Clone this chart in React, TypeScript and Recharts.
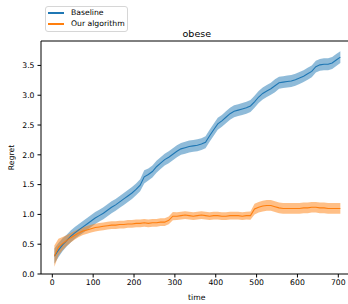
import React from 'react';
import { ComposedChart, Area, Line, XAxis, YAxis, ReferenceLine } from 'recharts';

const times = [5,15,25,35,45,55,65,75,85,95,105,115,125,135,145,155,165,175,185,195,205,215,225,235,245,255,265,275,285,295,305,315,325,335,345,355,365,375,385,395,405,415,425,435,445,455,465,475,485,495,505,515,525,535,545,555,565,575,585,595,605,615,625,635,645,655,665,675,685,695,705];

const baselineMean = [0.30,0.40,0.49,0.56,0.63,0.69,0.74,0.79,0.84,0.89,0.94,0.98,1.02,1.07,1.12,1.16,1.21,1.26,1.31,1.36,1.42,1.49,1.63,1.67,1.72,1.80,1.86,1.92,1.96,2.01,2.06,2.10,2.12,2.14,2.15,2.16,2.18,2.21,2.32,2.42,2.52,2.57,2.63,2.69,2.73,2.75,2.77,2.79,2.82,2.89,2.97,3.03,3.07,3.11,3.16,3.21,3.22,3.23,3.24,3.26,3.29,3.32,3.36,3.40,3.48,3.51,3.52,3.52,3.54,3.59,3.64];
const baselineSpread = [0.13,0.12,0.11,0.10,0.10,0.10,0.10,0.10,0.10,0.10,0.10,0.10,0.10,0.10,0.10,0.10,0.10,0.10,0.10,0.10,0.10,0.10,0.11,0.10,0.10,0.10,0.10,0.10,0.10,0.10,0.10,0.10,0.10,0.10,0.10,0.10,0.10,0.10,0.10,0.10,0.10,0.10,0.10,0.10,0.10,0.10,0.10,0.10,0.10,0.10,0.10,0.10,0.10,0.10,0.11,0.10,0.10,0.10,0.10,0.10,0.10,0.10,0.10,0.10,0.10,0.10,0.10,0.10,0.10,0.10,0.10];

const algoMean = [0.30,0.45,0.51,0.56,0.61,0.65,0.69,0.72,0.74,0.76,0.78,0.79,0.80,0.81,0.82,0.82,0.83,0.83,0.84,0.84,0.85,0.85,0.86,0.85,0.86,0.86,0.87,0.87,0.90,0.97,0.97,0.98,0.99,0.98,0.97,0.98,0.99,0.98,0.97,0.98,0.98,0.97,0.97,0.98,0.98,0.98,0.97,0.98,0.98,1.09,1.12,1.14,1.15,1.15,1.13,1.11,1.10,1.10,1.10,1.10,1.10,1.11,1.11,1.12,1.12,1.11,1.11,1.10,1.10,1.10,1.10];
const algoSpread = [0.18,0.14,0.11,0.09,0.08,0.07,0.07,0.065,0.065,0.065,0.065,0.065,0.065,0.065,0.065,0.065,0.065,0.065,0.065,0.065,0.065,0.065,0.065,0.065,0.065,0.065,0.065,0.065,0.065,0.07,0.065,0.065,0.065,0.065,0.065,0.065,0.065,0.065,0.065,0.065,0.065,0.065,0.065,0.065,0.065,0.065,0.065,0.065,0.07,0.09,0.09,0.09,0.09,0.09,0.09,0.09,0.09,0.09,0.09,0.09,0.09,0.09,0.09,0.09,0.09,0.09,0.09,0.09,0.09,0.09,0.09];

const seriesNames = ['Baseline', 'Our algorithm'];
const seriesColors = ['#1f77b4', '#ff7f0e'];
const xTicks = [0, 100, 200, 300, 400, 500, 600, 700];
const yTicks = [0, 0.5, 1.0, 1.5, 2.0, 2.5, 3.0, 3.5];
const title = 'obese';
const xLabel = 'time';
const yLabel = 'Regret';

const data = times.map((t, i) => ({
  t,
  base: baselineMean[i],
  baseBand: [baselineMean[i] - baselineSpread[i], baselineMean[i] + baselineSpread[i]],
  algo: algoMean[i],
  algoBand: [algoMean[i] - algoSpread[i], algoMean[i] + algoSpread[i]],
}));

const FONT = 'DejaVu Sans, sans-serif';
const Y_MAX = 3.91;

const LegendBox = () => (
  <div
    style={{
      position: 'absolute',
      left: 45,
      top: 6,
      width: 83,
      height: 26,
      border: '1px solid #d6d6d6',
      borderRadius: 3,
      background: 'rgba(255,255,255,0.8)',
      fontFamily: FONT,
      fontSize: 7.7,
      color: '#000',
      boxSizing: 'border-box',
    }}
  >
    {seriesNames.map((name, i) => (
      <React.Fragment key={name}>
        <div style={{ position: 'absolute', left: 2, top: 5 + i * 11, width: 16, height: 1.5, background: seriesColors[i] }} />
        <span style={{ position: 'absolute', left: 25, top: 0.8 + i * 11, lineHeight: '10px', whiteSpace: 'nowrap' }}>{name}</span>
      </React.Fragment>
    ))}
  </div>
);

export default function App() {
  return (
    <div style={{ position: 'absolute', left: 0, top: 0, width: 348, height: 304, overflow: 'hidden', background: '#fff' }}>
      <ComposedChart width={360} height={304} data={data} margin={{ top: 41, right: 7.4, left: 0, bottom: 0 }}>
        <XAxis
          dataKey="t"
          type="number"
          domain={[-27.7, 735]}
          allowDataOverflow
          ticks={xTicks}
          tickSize={3.5}
          tickMargin={2}
          height={30}
          stroke="#000"
          tick={{ fontSize: 7.7, fontFamily: FONT, fill: '#000' }}
          label={{ value: xLabel, position: 'insideBottom', offset: 4, style: { fontSize: 7.7, fontFamily: FONT, fill: '#000' } }}
        />
        <YAxis
          type="number"
          domain={[0, Y_MAX]}
          allowDataOverflow
          ticks={yTicks}
          tickFormatter={(v: number) => v.toFixed(1)}
          tickSize={3.5}
          tickMargin={3}
          width={41}
          stroke="#000"
          tick={{ fontSize: 7.7, fontFamily: FONT, fill: '#000' }}
          label={{ value: yLabel, angle: -90, position: 'insideLeft', offset: 11, style: { fontSize: 7.7, fontFamily: FONT, fill: '#000', textAnchor: 'middle' } }}
        />
        <ReferenceLine
          y={Y_MAX}
          stroke="#000"
          ifOverflow="visible"
          label={{ value: title, position: 'top', offset: 4, style: { fontSize: 9.5, fontFamily: FONT, fill: '#000' } }}
        />
        <Area dataKey="baseBand" stroke="none" fill={seriesColors[0]} fillOpacity={0.5} isAnimationActive={false} type="linear" />
        <Line dataKey="base" stroke={seriesColors[0]} strokeWidth={1.1} dot={false} isAnimationActive={false} type="linear" />
        <Area dataKey="algoBand" stroke="none" fill={seriesColors[1]} fillOpacity={0.5} isAnimationActive={false} type="linear" />
        <Line dataKey="algo" stroke={seriesColors[1]} strokeWidth={1.1} dot={false} isAnimationActive={false} type="linear" />
      </ComposedChart>
      <LegendBox />
    </div>
  );
}
